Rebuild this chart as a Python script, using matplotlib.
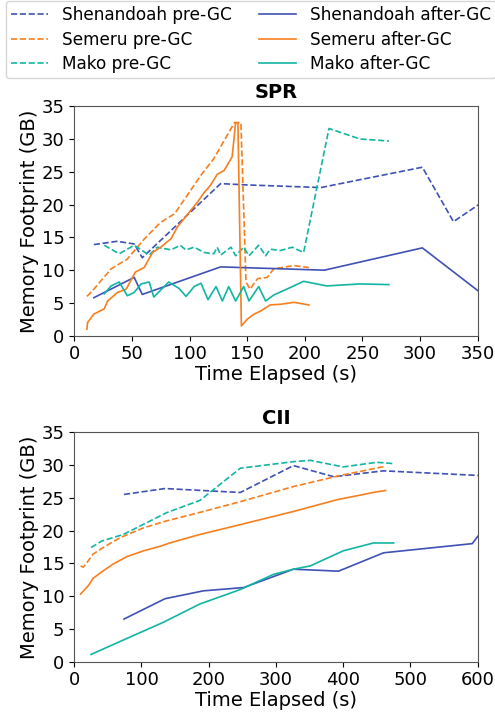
import matplotlib
matplotlib.use("Agg")
import matplotlib.pyplot as plt

# SPR data
spr_shen_pre_t = [17, 37, 52, 59, 127, 150, 214, 302, 329, 350, 360]
spr_shen_pre_m = [13.9, 14.4, 14.0, 11.9, 23.2, 23.0, 22.6, 25.7, 17.4, 19.9, 21.0]
spr_shen_after_t = [17, 52, 59, 127, 217, 302, 350, 360]
spr_shen_after_m = [5.8, 8.9, 6.3, 10.5, 10.0, 13.4, 6.9, 5.5]

spr_sem_pre_t = [11, 17, 32, 46, 61, 75, 87, 98, 110, 121, 139, 144.6, 149, 152.5, 159, 167.5, 173, 190.6, 203.6]
spr_sem_pre_m = [6.0, 7.1, 10.2, 11.7, 14.8, 17.3, 18.6, 21.4, 24.5, 27.0, 32.5, 32.5, 8.2, 7.1, 8.7, 8.9, 10.2, 10.7, 10.4]
spr_sem_after_t = [11, 11.5, 17, 26, 29, 37.5, 45, 53, 60.6, 68, 75, 84, 89.5, 101, 107, 113, 118, 124, 130, 137,
                   140, 142, 145, 150, 156, 162, 170, 179, 190.6, 203.6]
spr_sem_after_m = [1.0, 2.0, 3.3, 4.1, 5.3, 6.6, 7.1, 9.7, 10.4, 12.7, 13.5, 14.8, 16.6, 19.1, 20.4, 21.9, 22.9, 24.6, 25.2, 27.3,
                   32.5, 32.5, 1.5, 2.5, 3.3, 3.8, 4.7, 4.8, 5.1, 4.7]

spr_mako_pre_t = [26, 39, 52, 65, 72, 84, 92, 96.7, 104, 112.6, 121, 124, 127, 136, 140, 147, 151.6, 160, 166, 170, 179, 189, 199,
                  221, 248, 273]
spr_mako_pre_m = [13.8, 12.5, 13.8, 12.3, 13.5, 13.1, 13.8, 13.1, 13.5, 12.7, 12.5, 13.5, 12.3, 13.5, 12.2, 13.5, 12.2, 13.8, 12.2,
                  13.2, 13.0, 13.5, 12.7, 31.6, 30.0, 29.7]
spr_mako_after_t = [26, 32, 39, 46, 52, 58, 65, 69, 82, 91, 97, 104, 110, 116, 123, 128.5, 134, 140, 147, 151.6, 160, 166, 173,
                    188, 199, 219, 248, 273]
spr_mako_after_m = [6.4, 7.6, 8.2, 6.1, 6.6, 7.9, 8.2, 5.9, 8.2, 7.2, 6.0, 7.5, 8.0, 5.5, 7.5, 5.3, 7.5, 5.3, 7.5, 5.3, 7.5, 5.3, 6.2,
                    7.4, 8.3, 7.6, 7.9, 7.8]

# CII data
cii_shen_pre_t = [74, 135, 247, 326, 386, 460, 600, 610]
cii_shen_pre_m = [25.5, 26.4, 25.8, 29.9, 28.2, 29.1, 28.4, 28.4]
cii_shen_after_t = [74, 135, 192, 252, 326, 393, 460, 592, 600, 610]
cii_shen_after_m = [6.5, 9.6, 10.8, 11.3, 14.1, 13.8, 16.6, 18.0, 19.1, 20.0]

cii_sem_pre_t = [9.4, 13.4, 21, 28, 43, 68, 103, 135, 192, 247, 326, 396, 463]
cii_sem_pre_m = [14.6, 14.4, 15.4, 16.4, 17.4, 18.9, 20.4, 21.4, 22.9, 24.4, 26.7, 28.4, 29.8]
cii_sem_after_t = [9.4, 21, 28, 41, 58, 78, 103, 128, 142, 187, 247, 326, 391, 450, 463]
cii_sem_after_m = [10.3, 11.6, 12.7, 13.7, 14.9, 16.0, 16.9, 17.6, 18.1, 19.4, 20.9, 22.9, 24.7, 25.9, 26.1]

cii_mako_pre_t = [25, 41, 73, 137, 187, 247, 326, 351, 400, 450, 475]
cii_mako_pre_m = [17.4, 18.4, 19.4, 22.7, 24.6, 29.5, 30.5, 30.7, 29.7, 30.4, 30.2]
cii_mako_after_t = [25, 73, 132.5, 187, 247, 296, 326, 351, 400, 445, 475]
cii_mako_after_m = [1.1, 3.3, 6.0, 8.8, 11.0, 13.3, 14.1, 14.6, 16.9, 18.1, 18.1]

c_shen = "#3F51B5"
c_sem = "#F77F1E"
c_mako = "#12B5A3"
lw = 1.2

fig, (ax1, ax2) = plt.subplots(2, 1, figsize=(4.95, 7.13), dpi=100)
fig.subplots_adjust(left=0.15, right=0.965, top=0.851, bottom=0.072, hspace=0.42)

ax1.plot(spr_shen_pre_t, spr_shen_pre_m, '--', color=c_shen, lw=lw, label="Shenandoah pre-GC")
ax1.plot(spr_sem_pre_t, spr_sem_pre_m, '--', color=c_sem, lw=lw, label="Semeru pre-GC")
ax1.plot(spr_mako_pre_t, spr_mako_pre_m, '--', color=c_mako, lw=lw, label="Mako pre-GC")
ax1.plot(spr_shen_after_t, spr_shen_after_m, '-', color=c_shen, lw=lw, label="Shenandoah after-GC")
ax1.plot(spr_sem_after_t, spr_sem_after_m, '-', color=c_sem, lw=lw, label="Semeru after-GC")
ax1.plot(spr_mako_after_t, spr_mako_after_m, '-', color=c_mako, lw=lw, label="Mako after-GC")

ax2.plot(cii_shen_pre_t, cii_shen_pre_m, '--', color=c_shen, lw=lw)
ax2.plot(cii_sem_pre_t, cii_sem_pre_m, '--', color=c_sem, lw=lw)
ax2.plot(cii_mako_pre_t, cii_mako_pre_m, '--', color=c_mako, lw=lw)
ax2.plot(cii_shen_after_t, cii_shen_after_m, '-', color=c_shen, lw=lw)
ax2.plot(cii_sem_after_t, cii_sem_after_m, '-', color=c_sem, lw=lw)
ax2.plot(cii_mako_after_t, cii_mako_after_m, '-', color=c_mako, lw=lw)

for ax, title, xmax, step in [(ax1, "SPR", 350, 50), (ax2, "CII", 600, 100)]:
	ax.set_xlim(0, xmax)
	ax.set_ylim(0, 35)
	ax.set_xticks(range(0, xmax + 1, step))
	ax.set_yticks(range(0, 36, 5))
	ax.tick_params(labelsize=13)
	ax.set_title(title, fontsize=14, fontweight='bold')
	ax.set_xlabel("Time Elapsed (s)", fontsize=14, labelpad=1)
	ax.set_ylabel("Memory Footprint (GB)", fontsize=14, labelpad=2)
	for s in ax.spines.values():
		s.set_color("#555555")

handles, labels = ax1.get_legend_handles_labels()
fig.legend(handles, labels, loc='upper left', bbox_to_anchor=(0.012, 0.999), ncol=2, borderaxespad=0,
		   fontsize=12.2, handlelength=2.2, columnspacing=1.6, labelspacing=0.4, borderpad=0.3)

plt.savefig("out.png", dpi=100)
